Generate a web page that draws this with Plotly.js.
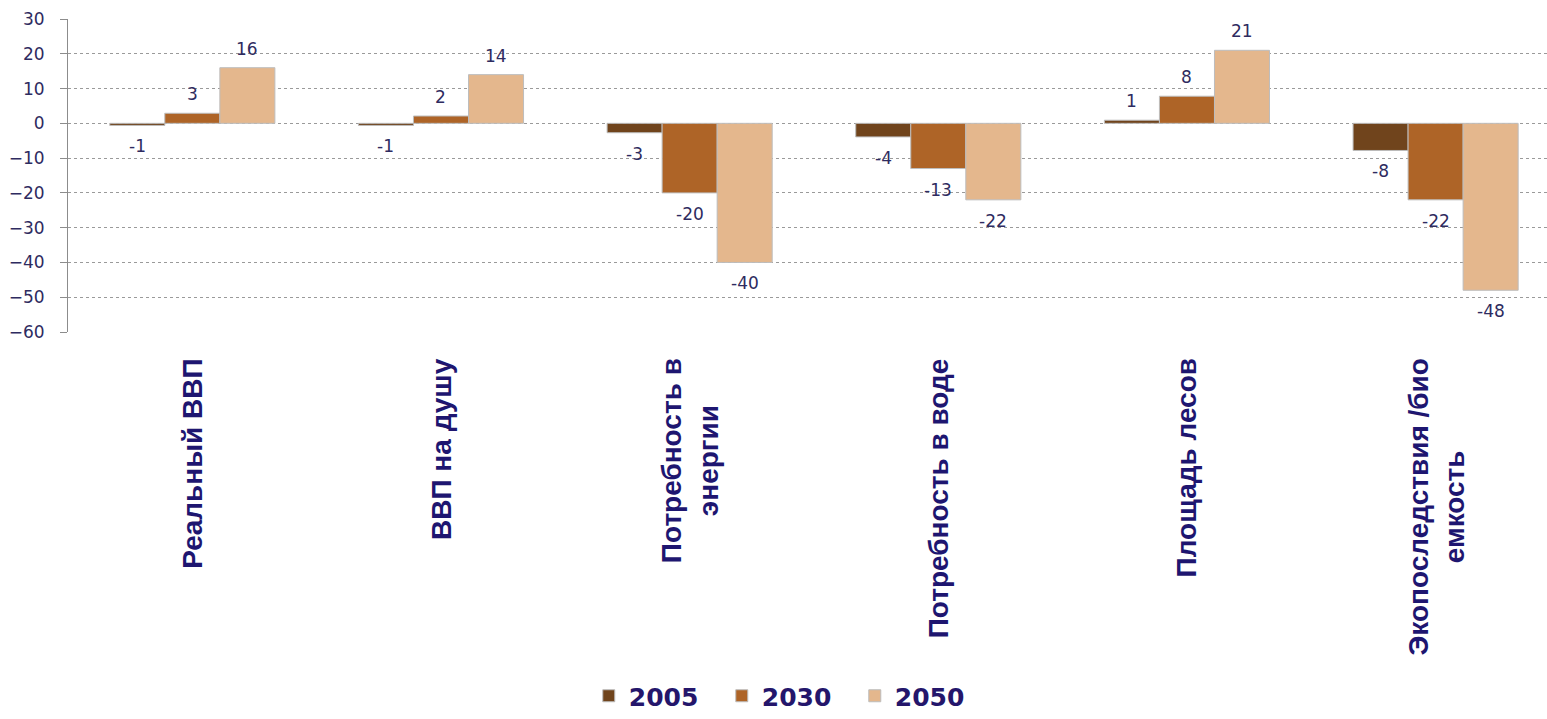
<!DOCTYPE html>
<html>
<head>
<meta charset="utf-8">
<script src="https://cdn.plot.ly/plotly-3.0.1.min.js"></script>
<style>html,body{margin:0;padding:0;background:#fff;}#chart{width:1547px;height:719px;}</style>
</head>
<body>
<div id="chart"></div>
<script>
const categories = ["Реальный ВВП", "ВВП на душу", "Потребность в<br>энергии", "Потребность в воде", "Площадь лесов", "Экопоследствия /био<br>емкость"];
const seriesNames = ["2005", "2030", "2050"];
const values2005 = [-0.6, -0.6, -2.7, -3.9, 0.9, -7.8];
const values2030 = [2.9, 2.1, -20, -13, 7.8, -22];
const values2050 = [16, 14, -40, -22, 21, -48];
const yTickVals = [30, 20, 10, 0, -10, -20, -30, -40, -50, -60];

const seriesValues = [values2005, values2030, values2050];
const colors = ["#70441C", "#AE6427", "#E4B78D"];
const catIdx = categories.map((c, i) => i);

const traces = seriesValues.map((vals, s) => ({
  type: "bar",
  name: seriesNames[s],
  x: catIdx,
  y: vals,
  marker: {color: colors[s], line: {color: "#BDBDBD", width: 1}},
  hoverinfo: "y"
}));

const barW = 0.664 / 3;
const annotations = [];
seriesValues.forEach((vals, s) => {
  vals.forEach((v, i) => {
    annotations.push({
      x: i + (s - 1) * barW, xref: "x",
      y: v, yref: "y",
      text: String(Math.round(v)),
      showarrow: false,
      xanchor: "center", yanchor: "middle",
      yshift: v >= 0 ? 19 : -21,
      font: {family: "DejaVu Sans", size: 17, color: "#2E2B60"}
    });
  });
});
categories.forEach((c, i) => {
  annotations.push({
    x: i, xref: "x",
    y: 0, yref: "paper",
    text: "<b>" + c + "</b>",
    showarrow: false,
    textangle: -90,
    align: "center",
    xanchor: "center", yanchor: "top",
    yshift: -24,
    font: {family: "Liberation Sans, Arial", size: 28, color: "#1E1670"}
  });
});

const boundaries = categories.slice(1).map((c, i) => i + 0.5);

const layout = {
  width: 1547, height: 719,
  margin: {l: 68, r: 0, t: 19, b: 387, pad: 0},
  paper_bgcolor: "#fff", plot_bgcolor: "#fff",
  barmode: "group",
  bargap: 0.336,
  bargroupgap: 0,
  showlegend: true,
  legend: {
    orientation: "h",
    x: 0.487, xanchor: "center",
    yref: "container",
    y: -0.012, yanchor: "bottom",
    font: {family: "DejaVu Sans", size: 25, color: "#24166B", weight: "bold"},
    entrywidth: 88, entrywidthmode: "pixels",
    itemwidth: 30
  },
  xaxis: {
    type: "linear",
    range: [-0.5, 5.448],
    showticklabels: false, ticks: "",
    showgrid: false, zeroline: false, showline: false
  },
  xaxis2: {
    overlaying: "x",
    anchor: "free",
    position: 2 / 3,
    type: "linear",
    range: [-0.5, 5.448],
    tickvals: boundaries,
    ticks: "outside", ticklen: 8, tickcolor: "#8C8C8C", tickwidth: 1,
    showticklabels: false,
    showgrid: false, zeroline: false,
    showline: true, linecolor: "#8C8C8C", linewidth: 1
  },
  yaxis: {
    range: [-60, 30],
    tickvals: yTickVals,
    ticks: "outside", ticklen: 7, tickcolor: "#8C8C8C",
    showline: true, linecolor: "#8C8C8C", linewidth: 1,
    showgrid: true, gridcolor: "#9A9A9A", griddash: "dot", gridwidth: 1,
    zeroline: false,
    ticklabelstandoff: 12,
    tickfont: {family: "DejaVu Sans", size: 17, color: "#2E2B60"}
  },
  annotations: annotations
};

Plotly.newPlot("chart", traces, layout, {displayModeBar: false, staticPlot: true});
</script>
</body>
</html>
